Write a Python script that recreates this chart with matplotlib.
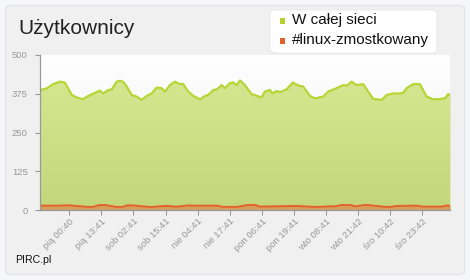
import matplotlib.pyplot as plt
import numpy as np
from matplotlib.patches import FancyBboxPatch, Rectangle
from matplotlib.colors import LinearSegmentedColormap

plt.rcParams['font.family'] = ['Liberation Sans', 'DejaVu Sans']

# godziny od początku okresu (czw 12:47)
hours = [0, 2.7, 5.3, 8.1, 10.1, 12.9, 14.9, 17.3, 19.6, 22.3, 24.3, 25.7, 27.7, 29.1,
         31.1, 32.4, 33.8, 35.2, 37.2, 39.2, 41.2, 43.3, 45.3, 47.3, 49.3, 50.7, 52.7,
         54.7, 56.8, 58.1, 60.1, 62.2, 64.9, 66.9, 68.2, 70.3, 71.7, 73.7, 75.0, 77.0,
         78.4, 79.8, 81.1, 83.1, 85.8, 89.9, 91.2, 93.3, 94.3, 96.0, 97.3, 100.0, 102.5,
         104.7, 106.8, 109.5, 111.5, 114.9, 116.9, 120.3, 123.0, 124.4, 126.4, 128.4,
         131.1, 133.1, 135.2, 137.2, 138.6, 140.6, 143.3, 146.0, 147.3, 148.7, 151.4,
         154.1, 156.8, 159.5, 162.2, 164.2, 165.6, 166.3]
cala_siec = [387, 392, 406, 414, 411, 371, 363, 357, 368, 378, 385, 376, 387, 389,
             414, 417, 413, 398, 371, 366, 355, 368, 376, 395, 393, 382, 403,
             414, 406, 406, 382, 368, 357, 368, 371, 387, 389, 403, 393, 409,
             411, 403, 418, 403, 374, 363, 382, 387, 376, 384, 380, 389, 411,
             402, 398, 368, 360, 366, 382, 393, 403, 401, 414, 403,
             406, 382, 358, 357, 355, 371, 376, 376, 378, 393, 406,
             406, 366, 357, 358, 360, 374, 371]

linux_hours = [0, 4, 7.3, 10, 12, 19.5, 21.5, 24, 26.5, 31, 33.5, 35.5, 37.5, 44, 46,
               50, 52.5, 54, 56, 60, 63, 72, 74, 76, 80, 84, 87.5, 89, 103, 104.5,
               111, 112, 118.5, 120, 122, 126, 128, 131.5, 133, 140, 142, 144.5, 146,
               151, 153, 155, 157, 163, 164.5, 166.3]
linux = [14, 14, 14, 15, 15, 10, 10, 16, 16, 10, 10, 15, 15, 10, 10,
         13, 13, 11, 11, 15, 14, 14, 10, 10, 10, 16, 16, 11, 13, 13,
         10, 10, 12, 12, 16, 16, 12, 16, 16, 10, 10, 13, 13,
         14, 14, 11, 11, 11, 14, 14]

tick_labels = ['pią 00:40', 'pią 13:41', 'sob 02:41', 'sob 15:41', 'nie 04:41',
               'nie 17:41', 'pon 06:41', 'pon 19:41', 'wto 08:41', 'wto 21:42',
               'śro 10:42', 'śro 23:42']
first_tick = 11.88
tick_step = 13.0167

fig = plt.figure(figsize=(4.7, 2.8), dpi=100)
fig.patch.set_facecolor('#f5f6fa')
W, H = 470, 280

def fx(px):
    return px / W

def fy(py):
    return 1 - py / H

# panel tła
panel = FancyBboxPatch((fx(5.5), fy(274.5)), fx(459), 269 / H, transform=fig.transFigure,
                       boxstyle='round,pad=0,rounding_size=0.012', facecolor='#f0f0f0',
                       edgecolor='#e3e3e6', linewidth=0.8, zorder=-5)
fig.patches.append(panel)

ax = fig.add_axes([fx(40), fy(210), fx(410), 155 / H])
ax.set_facecolor('none')
xmax = hours[-1]

# gradient tła wykresu
bg = np.linspace(0, 1, 256).reshape(-1, 1)
ax.imshow(bg, extent=[0, xmax, 0, 500], aspect='auto', origin='upper',
          cmap=LinearSegmentedColormap.from_list('bg', ['#ffffff', '#ececec']), zorder=0)

# obszar zielony z gradientem
poly = ax.fill_between(hours, cala_siec, 0, color='#d2e38a', linewidth=0, zorder=1)
grad = ax.imshow(np.linspace(0, 1, 256).reshape(-1, 1), extent=[0, xmax, 0, 420],
                 aspect='auto', origin='upper',
                 cmap=LinearSegmentedColormap.from_list('g', ['#d6e690', '#c4d67a']),
                 zorder=1.5)
grad.set_clip_path(poly.get_paths()[0], transform=ax.transData)
ax.plot(hours, cala_siec, color='#b8d536', linewidth=1.6, zorder=3)

ax.fill_between(linux_hours, linux, 0, color='#d49f5a', linewidth=0, zorder=2)
ax.plot(linux_hours, linux, color='#e4632b', linewidth=1.4, zorder=3)

ax.set_xlim(0, xmax)
ax.set_ylim(0, 500)

ticks = [first_tick + i * tick_step for i in range(len(tick_labels))]
ax.set_xticks(ticks)
ax.set_xticklabels(tick_labels, rotation=45, ha='right', va='top', rotation_mode='anchor',
                   fontsize=6.8, color='#999999')
ax.set_yticks([0, 125, 250, 375, 500])
ax.set_yticklabels(['0', '125', '250', '375', '500'], fontsize=6.8, color='#999999')
ax.tick_params(axis='x', length=3.5, width=0.8, color='#999999', pad=1.5)
ax.tick_params(axis='y', length=3.8, width=0.8, color='#999999', pad=5)
for s in ['top', 'right']:
    ax.spines[s].set_visible(False)
for s in ['left', 'bottom']:
    ax.spines[s].set_color('#999999')
    ax.spines[s].set_linewidth(0.9)
    ax.spines[s].set_zorder(4)

fig.text(fx(18), fy(28), 'Użytkownicy', fontsize=15, color='#222222', va='center', ha='left')
fig.text(fx(15), fy(260), 'PIRC.pl', fontsize=7.6, color='#111111', va='center', ha='left')

# legenda
leg = FancyBboxPatch((fx(270), fy(53)), fx(167), 43 / H, transform=fig.transFigure,
                     boxstyle='round,pad=0,rounding_size=0.015', facecolor='white',
                     edgecolor='#e8e8e8', linewidth=0.6, zorder=1)
fig.patches.append(leg)
series_names = ['W całej sieci', '#linux-zmostkowany']
series_colors = ['#b5d22e', '#e0612c']
for i, (name, col) in enumerate(zip(series_names, series_colors)):
    yc = 20 + 20 * i
    fig.patches.append(Rectangle((fx(280), fy(yc + 3.5)), fx(5), 5 / H, transform=fig.transFigure,
                                 facecolor=col, edgecolor='none', zorder=2))
    fig.text(fx(292), fy(yc), name, fontsize=11, color='#111111', va='center', ha='left', zorder=3)

fig.savefig('out.png', dpi=100, facecolor=fig.get_facecolor())
